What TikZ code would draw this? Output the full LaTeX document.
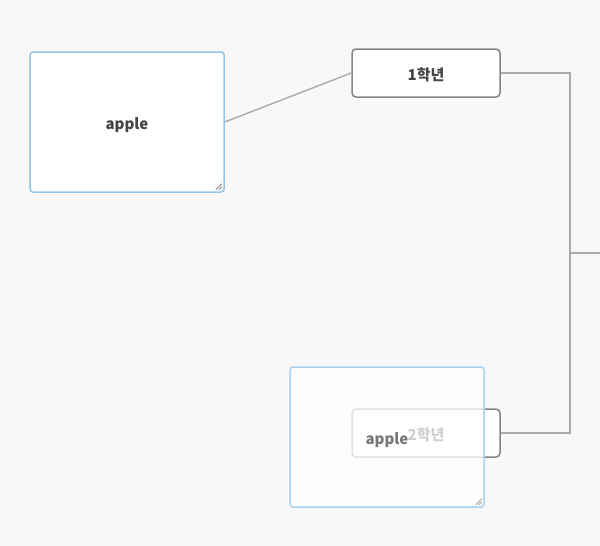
\documentclass[tikz,border=0pt]{standalone}
\usepackage{fontspec}
\setmainfont{Noto Sans CJK KR}
\definecolor{bgcol}{HTML}{F8F8F8}
\definecolor{blueb}{HTML}{90C8EC}
\definecolor{bluel}{HTML}{AAD2EE}
\definecolor{grayb}{HTML}{858585}
\definecolor{conncol}{HTML}{AAAAAA}
\definecolor{txt}{HTML}{444444}
\definecolor{txtl}{HTML}{777777}
\newcommand{\lowr}[2]{\raisebox{-#1}[\height][\depth]{#2}}
\tikzset{
  tabox/.style={draw=blueb, fill=white, line width=1.5pt, rounded corners=3pt,
    minimum width=194pt, minimum height=140pt, inner sep=0pt,
    font=\fontsize{15}{18}\selectfont\bfseries, text=txt},
  gradebox/.style={draw=grayb, fill=white, line width=1.5pt, rounded corners=4pt,
    minimum width=148pt, minimum height=48pt, inner sep=0pt,
    font=\fontsize{15}{18}\selectfont\bfseries, text=txt},
  conn/.style={draw=conncol, line width=1.4pt},
  grip/.style={draw=black!70, line width=0.5pt}
}
\begin{document}
\begin{tikzpicture}[x=1pt,y=-1pt]
\fill[bgcol] (0,0) rectangle (600,546);
\useasboundingbox (0,0) rectangle (600,546);
% nodes
\node[gradebox] (g1) at (426,73) {\lowr{1.5pt}{1학년}};
\node[gradebox] (g2) at (426,433) {\lowr{1.5pt}{2학년}};
\node[tabox] (ta1) at (127,122) {\lowr{3pt}{apple}};
\coordinate (j) at (570,253);
\coordinate (r) at (601,253);
% connectors
\draw[conn] (ta1.east) -- (g1.west);
\draw[conn] (g1.east) -| (j);
\draw[conn] (j) |- (g2.east);
\draw[conn] (j) -- (r);
% grip of first textarea
\draw[grip] ([shift={(-9,-3)}]ta1.south east) -- ([shift={(-3,-9)}]ta1.south east);
\draw[grip] ([shift={(-6,-3)}]ta1.south east) -- ([shift={(-3,-6)}]ta1.south east);
% translucent textarea over 2학년
\node[tabox, draw=bluel, fill=white, fill opacity=0.75, text opacity=1, text=txtl] (ta2) at (387,437) {\lowr{3pt}{apple}};
\draw[grip, draw=black!55] ([shift={(-9,-3)}]ta2.south east) -- ([shift={(-3,-9)}]ta2.south east);
\draw[grip, draw=black!55] ([shift={(-6,-3)}]ta2.south east) -- ([shift={(-3,-6)}]ta2.south east);
\end{tikzpicture}
\end{document}
